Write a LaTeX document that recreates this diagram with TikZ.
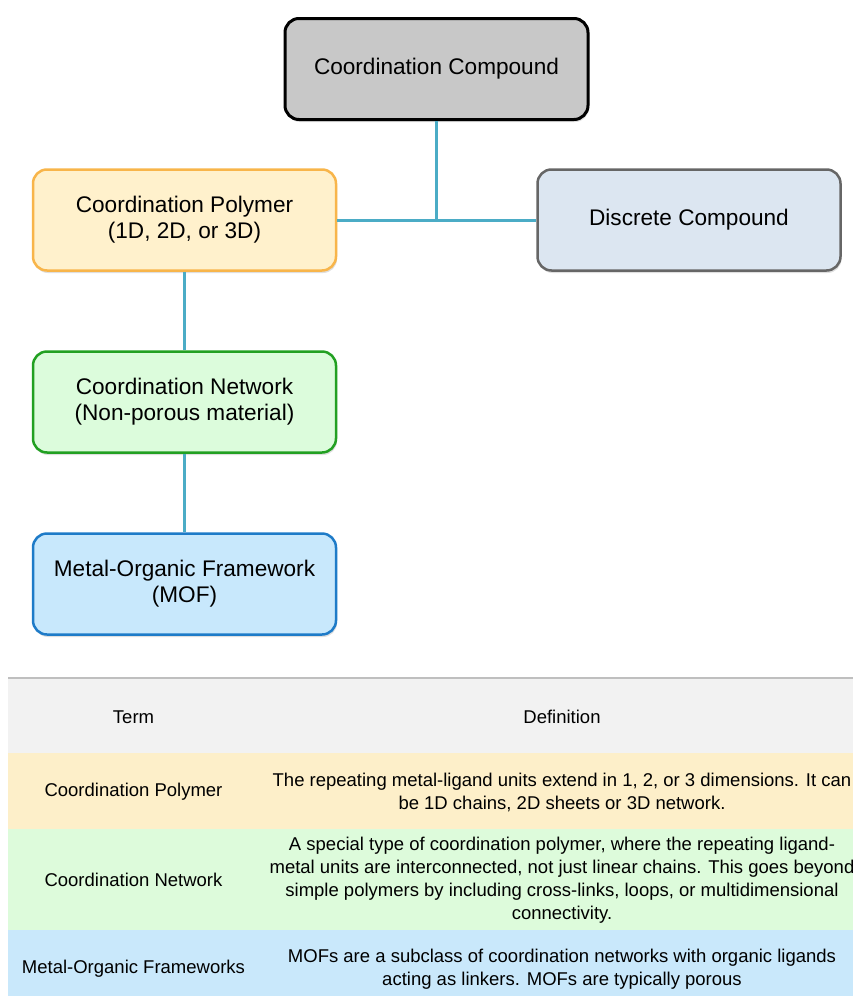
\documentclass[tikz,border=0pt]{standalone}
\usepackage{fontspec}
\setmainfont{Liberation Sans}
\usetikzlibrary{shadows}
\definecolor{linkblue}{HTML}{4BACC6}
\definecolor{compfill}{HTML}{C8C8C8}
\definecolor{polyfill}{HTML}{FFF1CC}
\definecolor{polyline}{HTML}{F8B54A}
\definecolor{discfill}{HTML}{DCE6F1}
\definecolor{discline}{HTML}{666666}
\definecolor{netfill}{HTML}{DCFCDC}
\definecolor{netline}{HTML}{22A022}
\definecolor{moffill}{HTML}{C8E8FC}
\definecolor{mofline}{HTML}{1E7BC8}
\definecolor{headgray}{HTML}{F2F2F2}
\definecolor{rowpoly}{HTML}{FDEFC9}
\definecolor{rownet}{HTML}{DDFBDB}
\definecolor{rowmof}{HTML}{C9E8FB}
\tikzset{
  box/.style={draw,rounded corners=14pt,minimum width=303pt,minimum height=101pt,
    align=center,line width=2.5pt,font=\fontsize{22.6}{26}\selectfont,
    drop shadow={opacity=0.25,shadow xshift=1pt,shadow yshift=-2.5pt}},
  link/.style={linkblue,line width=3pt},
  cell/.style={align=center,font=\fontsize{18.5}{23}\selectfont}
}
\begin{document}
\begin{tikzpicture}[x=1pt,y=-1pt]
    \useasboundingbox (0,0) rectangle (853,996);
    \clip (0,0) rectangle (853,996);
    % tree of terms
    \node[box,fill=compfill,line width=3pt] (comp) at (436.5,69) {Coordination Compound};
    \node[box,fill=polyfill,draw=polyline] (poly) at (184.5,220) {Coordination Polymer\\(1D, 2D, or 3D)};
    \node[box,fill=discfill,draw=discline] (disc) at (689,220) {Discrete Compound};
    \node[box,fill=netfill,draw=netline] (net) at (184.5,402) {Coordination Network\\(Non-porous material)};
    \node[box,fill=moffill,draw=mofline] (mof) at (184.5,584) {Metal-Organic Framework\\(MOF)};
    \draw[link] (comp) -- (comp |- poly);
    \draw[link] (poly) -- (disc);
    \draw[link] (poly) -- (net);
    \draw[link] (net) -- (mof);
    % table
    \fill[headgray] (8,678) rectangle (853,753);
    \fill[rowpoly] (8,753) rectangle (853,829);
    \fill[rownet] (8,829) rectangle (853,930);
    \fill[rowmof] (8,930) rectangle (853,996);
    \draw[black!25,line width=1.5pt] (8,678) -- (853,678);
    \node[cell] (termhead) at (133.5,717) {Term};
    \node[cell] (defhead) at (562,717) {Definition};
    \node[cell] (termpoly) at (133.5,792) {Coordination Polymer};
    \node[cell] (defpoly) at (562,792) {The repeating metal-ligand units extend in 1, 2, or 3 dimensions. It can\\be 1D chains, 2D sheets or 3D network.};
    \node[cell] (termnet) at (133.5,880) {Coordination Network};
    \node[cell] (defnet) at (562,880) {A special type of coordination polymer, where the repeating ligand-\\metal units are interconnected, not just linear chains. This goes beyond\\simple polymers by including cross-links, loops, or multidimensional\\connectivity.};
    \node[cell] (termmof) at (133.5,969) {Metal-Organic Frameworks};
    \node[cell] (defmof) at (562,969) {MOFs are a subclass of coordination networks with organic ligands\\acting as linkers. MOFs are typically porous};
\end{tikzpicture}
\end{document}
